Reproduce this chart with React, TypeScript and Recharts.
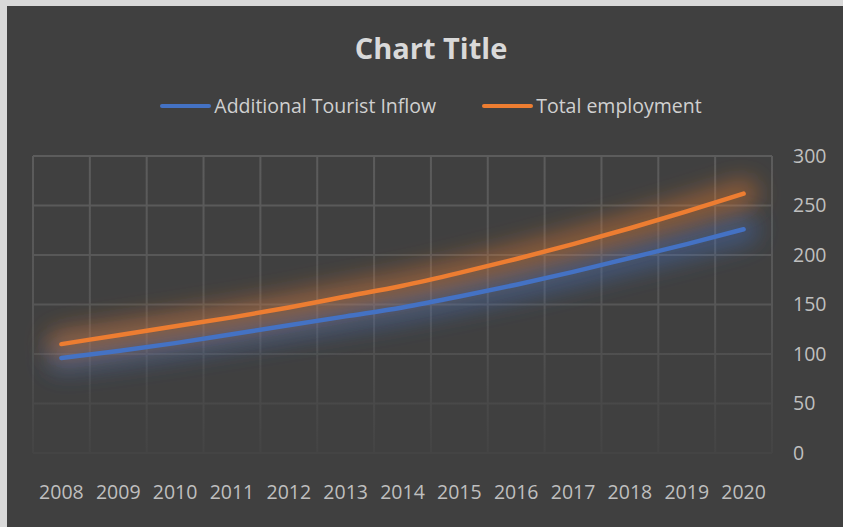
import { LineChart, Line, XAxis, YAxis, CartesianGrid, Legend } from "recharts";

const years = ["2008", "2009", "2010", "2011", "2012", "2013", "2014", "2015", "2016", "2017", "2018", "2019", "2020"];
const touristInflow = [96, 103, 111, 120, 129, 138, 147, 158, 170, 183, 197, 211, 226];
const totalEmployment = [110, 119, 128, 137, 147, 158, 169, 182, 196, 211, 227, 244, 262];
const yTicks = [0, 50, 100, 150, 200, 250, 300];

const seriesInfo = [
  { key: "tourist", name: "Additional Tourist Inflow", color: "#4472C4" },
  { key: "employment", name: "Total employment", color: "#ED7D31" },
];

const data = years.map((year, i) => ({
  year,
  tourist: touristInflow[i],
  employment: totalEmployment[i],
}));

const FONT = "'Open Sans', sans-serif";

function LegendRow() {
  return (
    <div style={{ display: "flex", justifyContent: "center", alignItems: "center", gap: 46, fontFamily: FONT }}>
      {seriesInfo.map((s) => (
        <div key={s.key} style={{ display: "flex", alignItems: "center" }}>
          <div style={{ width: 51, height: 4, borderRadius: 2, background: s.color, marginRight: 3 }} />
          <span style={{ color: "#d0d0d0", fontSize: 19.5, lineHeight: "26px" }}>{s.name}</span>
        </div>
      ))}
    </div>
  );
}

export default function App() {
  const W = 836;
  const H = 521;
  return (
    <div style={{ position: "absolute", left: 0, top: 0, width: 843, height: 527, background: "#d9d9d9" }}>
      <style>{`body{margin:0}`}</style>
      <div style={{ position: "absolute", left: 7, top: 6, width: W, height: H, background: "#404040" }}>
        <div
          style={{
            position: "absolute",
            left: 0,
            top: 24,
            width: 848,
            textAlign: "center",
            fontFamily: FONT,
            fontWeight: 700,
            fontSize: 29,
            lineHeight: "35px",
            color: "#d9d9d9",
          }}
        >
          Chart Title
        </div>
        <LineChart width={W} height={H} data={data} margin={{ top: 150, right: 11, bottom: 44, left: 26 }}>
          <defs>
            <linearGradient id="gridFade" gradientUnits="userSpaceOnUse" x1="0" y1="150" x2="0" y2="447">
              <stop offset="0%" stopColor="#5c5c5c" />
              <stop offset="50%" stopColor="#565656" />
              <stop offset="80%" stopColor="#4a4a4a" />
              <stop offset="100%" stopColor="#444444" />
            </linearGradient>
            <filter id="glow" x="-10%" y="-100%" width="120%" height="300%">
              <feGaussianBlur stdDeviation="11" />
            </filter>
          </defs>
          <CartesianGrid
            stroke="url(#gridFade)"
            strokeWidth={2}
            verticalCoordinatesGenerator={({ offset }: any) =>
              Array.from({ length: years.length + 1 }, (_, i) => offset.left + (i * offset.width) / years.length)
            }
          />
          <XAxis
            dataKey="year"
            axisLine={false}
            tickLine={false}
            interval={0}
            padding={{ left: 28.4, right: 28.4 }}
            tickMargin={26}
            tick={{ fill: "#bfbfbf", fontSize: 19.5, fontFamily: FONT }}
          />
          <YAxis
            orientation="right"
            domain={[0, 300]}
            ticks={yTicks}
            axisLine={false}
            tickLine={false}
            tickMargin={15}
            width={60}
            tick={{ fill: "#bfbfbf", fontSize: 19.5, fontFamily: FONT }}
          />
          <Legend
            verticalAlign="middle"
            align="center"
            layout="horizontal"
            wrapperStyle={{ top: 87, left: 0, width: 848 }}
            content={() => <LegendRow />}
          />
          {seriesInfo.map((s) => (
            <Line
              key={s.key + "-glow"}
              dataKey={s.key}
              type="monotone"
              stroke={s.color}
              strokeWidth={30}
              strokeOpacity={0.42}
              strokeLinecap="round"
              filter="url(#glow)"
              dot={false}
              activeDot={false}
              legendType="none"
              isAnimationActive={false}
            />
          ))}
          {seriesInfo.map((s) => (
            <Line
              key={s.key}
              dataKey={s.key}
              name={s.name}
              type="monotone"
              stroke={s.color}
              strokeWidth={4.5}
              strokeLinecap="round"
              dot={false}
              activeDot={false}
              isAnimationActive={false}
            />
          ))}
        </LineChart>
      </div>
    </div>
  );
}
